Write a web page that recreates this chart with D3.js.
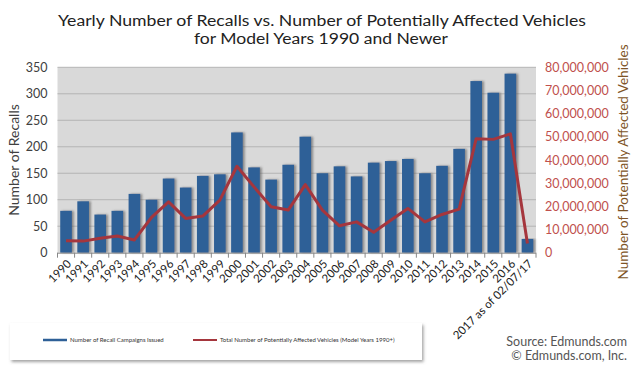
<!DOCTYPE html>
<html>
<head>
<meta charset="utf-8">
<script src="https://cdn.jsdelivr.net/npm/d3@7"></script>
<style>
  body { margin: 0; background: #fff; }
  svg { display: block; font-family: Lato, "Open Sans", sans-serif; }
</style>
</head>
<body>
<div id="chart"></div>
<script>
const years = ['1990','1991','1992','1993','1994','1995','1996','1997','1998','1999','2000','2001','2002','2003','2004','2005','2006','2007','2008','2009','2010','2011','2012','2013','2014','2015','2016','2017 as of 02/07/17']
const recalls = [79,97,72,79,111,100,140,123,145,148,227,161,138,166,219,150,163,144,170,173,177,150,164,196,324,302,338,26]
const vehicles = [5.2,5.0,6.2,7.2,5.5,15.2,21.9,14.8,15.8,22.7,37.3,28.4,19.8,18.4,29.4,18.4,11.6,13.3,8.8,14.0,19.1,13.3,16.5,18.8,49.2,48.9,51.3,4.0].map(v => v * 1e6)
const leftTicks = [0,50,100,150,200,250,300,350]
const rightTicks = [0,1e7,2e7,3e7,4e7,5e7,6e7,7e7,8e7]

const W = 642, H = 377
const m = { l: 57.5, r: 536, t: 67.3, b: 252.7 }

let svg = d3.select('#chart').append('svg').attr('width', W).attr('height', H)

let defs = svg.append('defs')
let sh = defs.append('filter').attr('id','shadow').attr('x','-20%').attr('y','-5%').attr('width','160%').attr('height','110%')
sh.append('feDropShadow').attr('dx',2).attr('dy',0).attr('stdDeviation',1.2)
	.attr('flood-color','#555').attr('flood-opacity',0.6)
let lsh = defs.append('filter').attr('id','lshadow').attr('x','-5%').attr('y','-20%').attr('width','110%').attr('height','160%')
lsh.append('feDropShadow').attr('dx',1.5).attr('dy',2).attr('stdDeviation',1.5)
	.attr('flood-color','#666').attr('flood-opacity',0.6)

// title
svg.append('text').attr('x', 322).attr('y', 26).attr('text-anchor','middle')
	.attr('font-size', 15.5).attr('fill','#222')
	.attr('textLength', 528).attr('lengthAdjust','spacingAndGlyphs')
	.text('Yearly Number of Recalls vs. Number of Potentially Affected Vehicles')
svg.append('text').attr('x', 321).attr('y', 44).attr('text-anchor','middle')
	.attr('font-size', 15.5).attr('fill','#222')
	.attr('textLength', 254).attr('lengthAdjust','spacingAndGlyphs')
	.text('for Model Years 1990 and Newer')

let x = d3.scaleBand().domain(years).range([m.l, m.r]).paddingInner(0.32).paddingOuter(0.16)
let yL = d3.scaleLinear().domain([0,350]).range([m.b, m.t])
let yR = d3.scaleLinear().domain([0,8e7]).range([m.b, m.t])

// plot background
svg.append('rect').attr('x', m.l).attr('y', m.t).attr('width', m.r - m.l).attr('height', m.b - m.t)
	.attr('fill','#d9d9d9')

// grid
svg.append('g').selectAll('line').data(leftTicks.slice(1)).enter().append('line')
	.attr('x1', m.l).attr('x2', m.r)
	.attr('y1', d => yL(d)).attr('y2', d => yL(d))
	.attr('stroke','#b4b4b4').attr('stroke-width',1)

// bars
svg.append('g').selectAll('rect').data(recalls).enter().append('rect')
	.attr('x', (d,i) => x(years[i]))
	.attr('y', d => yL(d))
	.attr('width', x.bandwidth())
	.attr('height', d => m.b - yL(d))
	.attr('fill','#2e6097')
	.attr('filter','url(#shadow)')

// line
let line = d3.line().x((d,i) => x(years[i]) + x.bandwidth()/2).y(d => yR(d))
svg.append('path').datum(vehicles).attr('d', line)
	.attr('fill','none').attr('stroke','#a5363d').attr('stroke-width',3)
	.attr('stroke-linejoin','round')

// left axis
let axL = svg.append('g').attr('transform','translate(' + m.l + ',0)')
	.call(d3.axisLeft(yL).tickValues(leftTicks).tickSize(0).tickPadding(10))
axL.select('.domain').remove()
axL.selectAll('text').attr('font-size',12.5).attr('fill','#404040').attr('font-family','Lato, sans-serif')

// right axis
let axR = svg.append('g').attr('transform','translate(' + m.r + ',0)')
	.call(d3.axisRight(yR).tickValues(rightTicks).tickSize(0).tickPadding(9).tickFormat(d3.format(',')))
axR.select('.domain').remove()
axR.selectAll('text').attr('font-size',12.5).attr('fill','#c0504d').attr('font-family','Lato, sans-serif')

// bottom axis
let boundaries = years.map(d => x(d) - x.step()*x.paddingInner()/2).concat([m.r])
svg.append('line').attr('x1', m.l).attr('x2', m.r).attr('y1', m.b + 0.5).attr('y2', m.b + 0.5)
	.attr('stroke','#888')
svg.append('g').selectAll('line').data(boundaries).enter().append('line')
	.attr('x1', d => d).attr('x2', d => d).attr('y1', m.b).attr('y2', m.b + 5)
	.attr('stroke','#888')
svg.append('g').selectAll('text').data(years).enter().append('text')
	.attr('transform', d => 'translate(' + (x(d) + x.bandwidth()/2 + 3) + ',' + (m.b + 9) + ') rotate(-45)')
	.attr('text-anchor','end').attr('dy','0.35em')
	.attr('font-size',11.5).attr('fill','#222')
	.text(d => d)

// axis titles
svg.append('text').attr('transform','translate(19,' + ((m.t + m.b)/2) + ') rotate(-90)')
	.attr('text-anchor','middle').attr('font-size',14).attr('fill','#404040')
	.text('Number of Recalls')
svg.append('text').attr('transform','translate(628,' + ((m.t + m.b)/2 + 2) + ') rotate(-90)')
	.attr('text-anchor','middle').attr('font-size',13.5).attr('fill','#7e5426')
	.text('Number of Potentially Affected Vehicles')

// legend
let lg = svg.append('g')
lg.append('rect').attr('x',10).attr('y',323).attr('width',412).attr('height',37)
	.attr('fill','#fff').attr('filter','url(#lshadow)')
lg.append('line').attr('x1',43).attr('x2',67).attr('y1',340).attr('y2',340).attr('stroke','#2e6097').attr('stroke-width',2.5)
lg.append('text').attr('x',70).attr('y',340).attr('dy','0.35em').attr('font-size',6).attr('fill','#333')
	.text('Number of Recall Campaigns Issued')
lg.append('line').attr('x1',193).attr('x2',217).attr('y1',340).attr('y2',340).attr('stroke','#a5363d').attr('stroke-width',2)
lg.append('text').attr('x',220).attr('y',340).attr('dy','0.35em').attr('font-size',6).attr('fill','#333')
	.text('Total Number of Potentially Affected Vehicles (Model Years 1990+)')

// source
svg.append('text').attr('x',627).attr('y',346).attr('text-anchor','end')
	.attr('font-size',12.5).attr('fill','#555').text('Source: Edmunds.com')
svg.append('text').attr('x',627).attr('y',360).attr('text-anchor','end')
	.attr('font-size',12.5).attr('fill','#555').text('© Edmunds.com, Inc.')
</script>
</body>
</html>
